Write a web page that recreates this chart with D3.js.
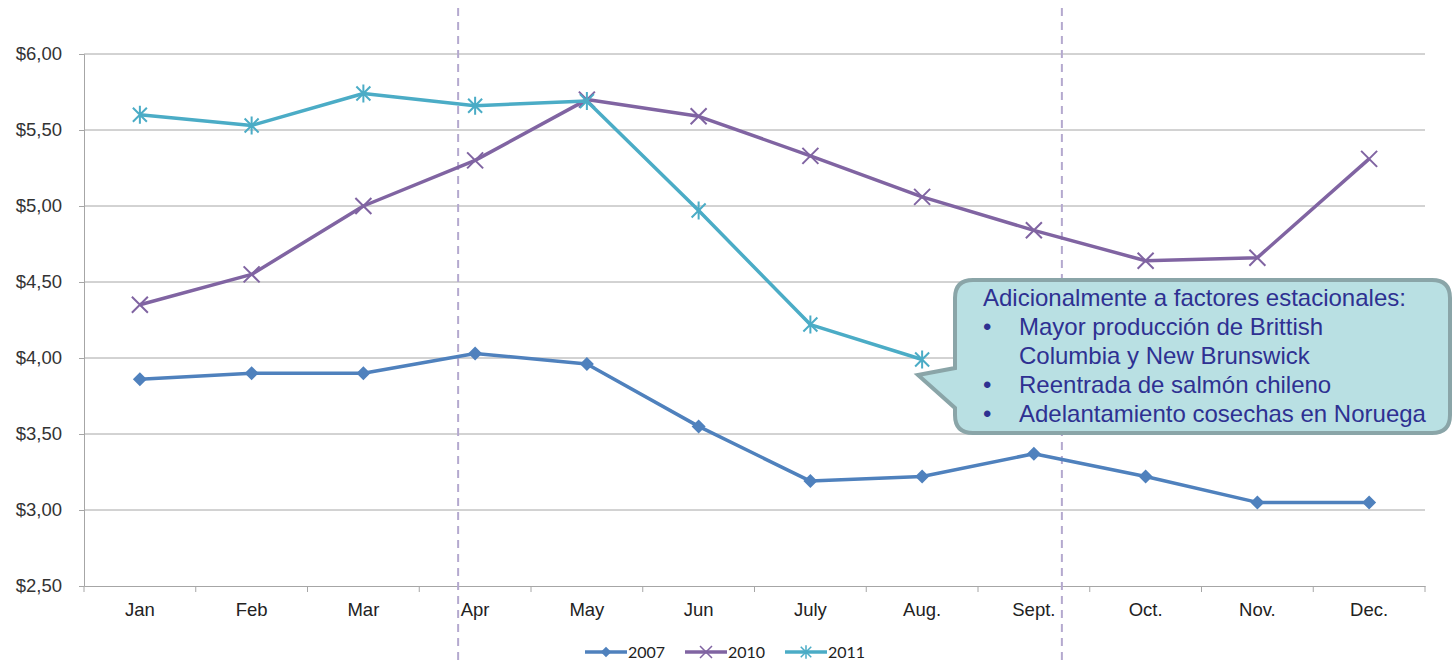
<!DOCTYPE html>
<html>
<head>
<meta charset="utf-8">
<script src="https://cdn.jsdelivr.net/npm/d3@7"></script>
<style>
  body { margin: 0; background: #fff; }
  svg { display: block; font-family: Lato, "Open Sans", sans-serif; }
</style>
</head>
<body>
<svg id="chart" width="1453" height="662"></svg>
<script>
const months = ["Jan", "Feb", "Mar", "Apr", "May", "Jun", "July", "Aug.", "Sept.", "Oct.", "Nov.", "Dec."];
const s2007 = [3.86, 3.90, 3.90, 4.03, 3.96, 3.55, 3.19, 3.22, 3.37, 3.22, 3.05, 3.05];
const s2010 = [4.35, 4.55, 5.00, 5.30, 5.70, 5.59, 5.33, 5.06, 4.84, 4.64, 4.66, 5.31];
const s2011 = [5.60, 5.53, 5.74, 5.66, 5.69, 4.97, 4.22, 3.99];
const yTicks = [2.5, 3, 3.5, 4, 4.5, 5, 5.5, 6];
const note = ["Mayor producción de Brittish", "Columbia y New Brunswick", "Reentrada de salmón chileno", "Adelantamiento cosechas en Noruega"];

const series = [
  { name: "2007", values: s2007, color: "#4f81bd", marker: "diamond" },
  { name: "2010", values: s2010, color: "#8064a2", marker: "x" },
  { name: "2011", values: s2011, color: "#4bacc6", marker: "star" }
];

const svg = d3.select("#chart");
const x = d3.scaleBand().domain(months).range([84, 1425]);
const y = d3.scaleLinear().domain([2.5, 6]).range([586, 54]);
const cx = m => x(m) + x.bandwidth() / 2;

// gridlines
svg.append("g").selectAll("line").data(yTicks.slice(1)).join("line")
  .attr("x1", 84).attr("x2", 1425)
  .attr("y1", d => y(d)).attr("y2", d => y(d))
  .attr("stroke", "#a6a6a6").attr("stroke-width", 1);

// y axis
const fmt = d => "$" + d.toFixed(2).replace(".", ",");
const ya = svg.append("g").attr("transform", "translate(84,0)")
  .call(d3.axisLeft(y).tickValues(yTicks).tickFormat(fmt).tickSize(5).tickPadding(17));
ya.select(".domain").attr("stroke", "#a6a6a6");
ya.selectAll(".tick line").attr("stroke", "#a6a6a6");
ya.selectAll("text").attr("font-size", 18.5).attr("fill", "#333");

// x axis
const xa = svg.append("g").attr("transform", "translate(0,586)")
  .call(d3.axisBottom(x).tickSize(0).tickPadding(17));
xa.select(".domain").attr("stroke", "#a6a6a6");
xa.selectAll("text").attr("font-size", 18.5).attr("fill", "#222");
xa.append("g").selectAll("line").data(months).join("line")
  .attr("x1", d => x(d)).attr("x2", d => x(d))
  .attr("y1", 0).attr("y2", 6).attr("stroke", "#a6a6a6");
xa.append("line").attr("x1", 1425).attr("x2", 1425).attr("y1", 0).attr("y2", 6).attr("stroke", "#a6a6a6");

// dashed season separators
const seps = [cx("Apr") - 17, cx("Sept.") + 28];
svg.append("g").selectAll("line").data(seps).join("line")
  .attr("x1", d => d).attr("x2", d => d)
  .attr("y1", 8).attr("y2", 662)
  .attr("stroke", "#b4a9cf").attr("stroke-width", 2).attr("stroke-dasharray", "8,6");

// markers
function drawMarker(g, type, color) {
  if (type === "diamond") {
    g.append("path").attr("d", "M0,-7L7,0L0,7L-7,0Z").attr("fill", color);
  } else if (type === "x") {
    g.append("path").attr("d", "M-8,-8L8,8M-8,8L8,-8").attr("stroke", color).attr("stroke-width", 2);
  } else {
    g.append("path").attr("d", "M-7,-7L7,7M-7,7L7,-7M0,-9V9").attr("stroke", color).attr("stroke-width", 2);
  }
}

const line = d3.line().x((d, i) => cx(months[i])).y(d => y(d));
series.forEach(s => {
  svg.append("path").datum(s.values).attr("d", line)
    .attr("fill", "none").attr("stroke", s.color).attr("stroke-width", 3.5).attr("stroke-linejoin", "round");
  s.values.forEach((v, i) => {
    const g = svg.append("g").attr("transform", `translate(${cx(months[i])},${y(v)})`);
    drawMarker(g, s.marker, s.color);
  });
});

// legend
const lg = svg.append("g").attr("transform", "translate(585,652)");
series.forEach((s, i) => {
  const g = lg.append("g").attr("transform", `translate(${i * 100},0)`);
  g.append("line").attr("x1", 0).attr("x2", 42).attr("stroke", s.color).attr("stroke-width", 3.5);
  const m = g.append("g");
  drawMarker(m, s.marker, s.color);
  m.attr("transform", "translate(21,0) scale(0.75)");
  g.append("text").attr("x", 43).attr("y", 6).attr("font-size", 16).attr("fill", "#222").text(s.name);
});

// callout
const bx = 955, by = 280, bw = 495, bh = 153, r = 18;
const tip = [918, 375];
const callout = `M${bx + r},${by} H${bx + bw - r} Q${bx + bw},${by} ${bx + bw},${by + r}
  V${by + bh - r} Q${bx + bw},${by + bh} ${bx + bw - r},${by + bh}
  H${bx + r} Q${bx},${by + bh} ${bx},${by + bh - r}
  V${by + 128} L${tip[0]},${tip[1]} L${bx},${by + 88}
  V${by + r} Q${bx},${by} ${bx + r},${by} Z`;
svg.append("path").attr("d", callout)
  .attr("fill", "#b9e0e3").attr("stroke", "#8aa5a8").attr("stroke-width", 4);
const tg = svg.append("g").attr("font-family", "'Liberation Sans', Arial, sans-serif")
  .attr("font-size", 24).attr("fill", "#2e3192");
tg.append("text").attr("x", 983).attr("y", 306).text("Adicionalmente a factores estacionales:");
note.forEach((t, i) => {
  const yy = 335 + i * 29;
  if (i !== 1) tg.append("text").attr("x", 983).attr("y", yy).text("•");
  tg.append("text").attr("x", 1019).attr("y", yy).text(t);
});
</script>
</body>
</html>
